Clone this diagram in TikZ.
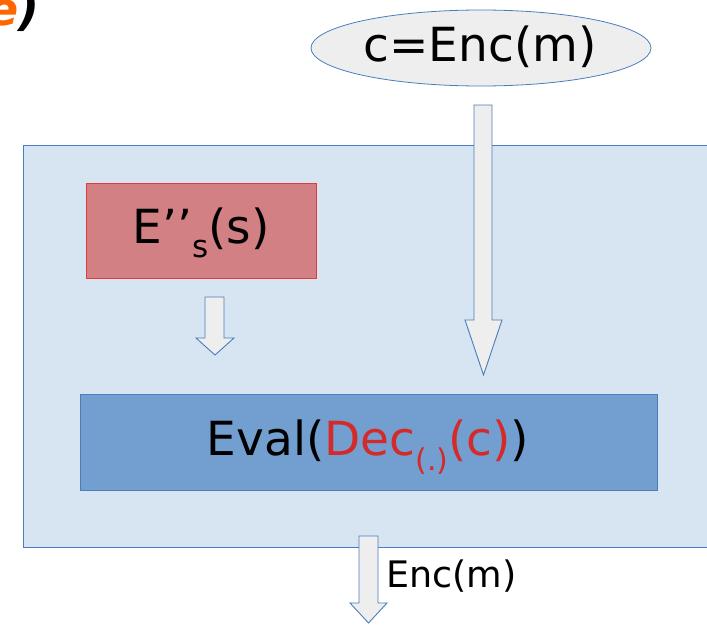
\documentclass[tikz,border=0pt]{standalone}
\usepackage{fontspec}
\setmainfont{DejaVu Sans}
\usetikzlibrary{shapes.geometric}
\definecolor{edgeblue}{HTML}{4A7EBB}
\definecolor{panelfill}{HTML}{D7E4F1}
\definecolor{redfill}{HTML}{D28084}
\definecolor{rededge}{HTML}{E03C3C}
\definecolor{evalfill}{HTML}{729FCF}
\definecolor{greyfill}{HTML}{EEEEEE}
\definecolor{redtext}{HTML}{D42A2A}
\definecolor{orangetext}{HTML}{FF6600}
\tikzset{
  blockarrow/.style={fill=greyfill, draw=edgeblue, line width=0.9pt, line join=miter},
  bigfont/.style={font=\fontsize{47}{56}\selectfont, inner sep=0pt},
}
\begin{document}
\begin{tikzpicture}[x=1pt,y=-1pt]
\useasboundingbox (0,0) rectangle (707,624);
\clip (0,0) rectangle (707,624);
% cut-off title text
\node[font=\fontsize{46}{55}\selectfont\bfseries\itshape, anchor=base east, inner sep=0pt] (title) at (40,25) {\textcolor{orangetext}{e})};
% ellipse
\node[ellipse, fill=greyfill, draw=edgeblue, line width=0.8pt, minimum width=340pt, minimum height=76pt, inner sep=0pt] (enc) at (481,48) {};
\node[bigfont] (enctext) at (480,47) {c=Enc(m)};
% panel
\draw[fill=panelfill, draw=edgeblue, line width=0.8pt] (23,145) rectangle (710,547);
\coordinate (panel) at (365,346);
% red box
\node[draw=rededge, fill=redfill, line width=0.8pt, minimum width=230pt, minimum height=95pt, inner sep=0pt] (ebox) at (201,230.5) {};
\node[bigfont, anchor=base] (etext) at (201,243) {E’’\raisebox{-14pt}{\fontsize{31}{31}\selectfont s}(s)};
% eval box
\node[draw=edgeblue, fill=evalfill, line width=0.8pt, minimum width=577pt, minimum height=96pt, inner sep=0pt] (evalbox) at (368.5,442) {};
\node[bigfont, anchor=base] (evaltext) at (368,455) {Eval(\textcolor{redtext}{Dec\raisebox{-15pt}{\fontsize{30}{30}\selectfont (.)}(c)})};
% big arrow from ellipse to eval box
\draw[blockarrow] (474,105) -- (492,105) -- (492,320) -- (502,320) -- (483.5,375) -- (465,320) -- (474,320) -- cycle;
% small arrow from red box
\draw[blockarrow] (205,297) -- (224,297) -- (224,338) -- (234,338) -- (215,355) -- (196,338) -- (205,338) -- cycle;
% bottom arrow
\draw[blockarrow] (359,536) -- (378,536) -- (378,603) -- (387,603) -- (368.5,623) -- (350,603) -- (359,603) -- cycle;
\node[font=\fontsize{36.5}{42}\selectfont, anchor=base west, inner sep=0pt] (outlabel) at (386,587) {Enc(m)};
\end{tikzpicture}
\end{document}
